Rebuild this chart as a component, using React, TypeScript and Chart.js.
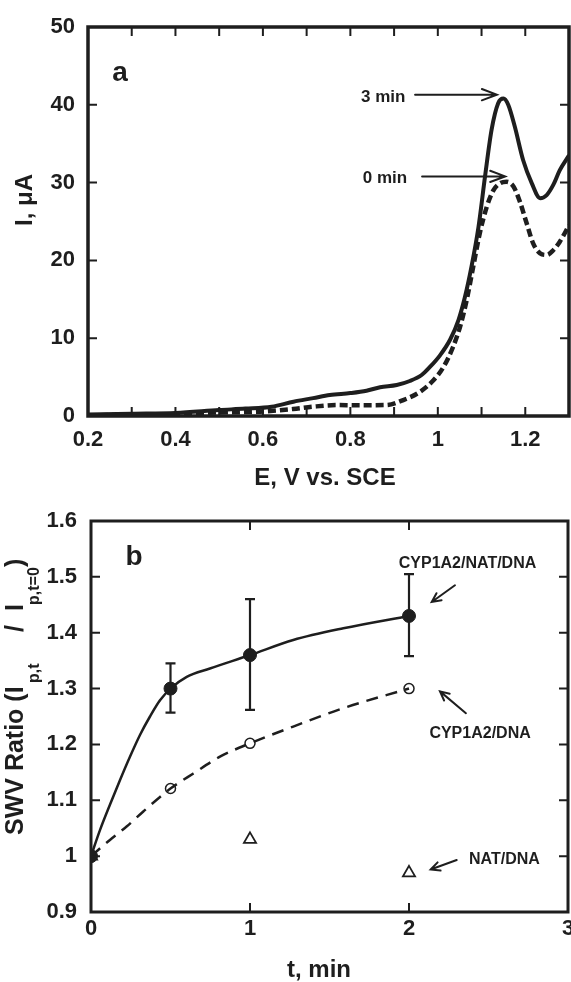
import React, { useEffect, useRef } from "react";
import { Chart, registerables } from "chart.js";

Chart.register(...registerables);

const FAMILY = "'Liberation Sans', Arial, Helvetica, sans-serif";
const INK = "#1e1e1e";

// ---------- Panel a : SWV curves ----------
const E_3MIN = [0.2, 0.3, 0.4, 0.5, 0.56, 0.62, 0.67, 0.715, 0.753, 0.8, 0.837, 0.868, 0.906, 0.936, 0.963, 0.982, 1.005, 1.028, 1.047, 1.062, 1.077, 1.093, 1.108, 1.123, 1.138, 1.15, 1.161, 1.176, 1.195, 1.215, 1.234, 1.249, 1.264, 1.279, 1.3];
const I_3MIN = [0.2, 0.3, 0.4, 0.77, 0.95, 1.2, 1.84, 2.3, 2.7, 2.95, 3.25, 3.7, 3.98, 4.5, 5.27, 6.3, 7.8, 9.8, 12.3, 15.3, 19.2, 24.3, 30.8, 36.8, 40.2, 40.8, 40.0, 37.2, 32.9, 29.9, 28.0, 28.4, 29.7, 31.6, 33.5];

const E_0MIN = [0.2, 0.3, 0.4, 0.5, 0.593, 0.669, 0.715, 0.769, 0.822, 0.883, 0.921, 0.959, 0.99, 1.013, 1.035, 1.051, 1.066, 1.081, 1.096, 1.112, 1.127, 1.142, 1.157, 1.173, 1.188, 1.203, 1.218, 1.234, 1.249, 1.264, 1.279, 1.3];
const I_0MIN = [0.1, 0.15, 0.25, 0.45, 0.56, 0.9, 1.2, 1.4, 1.38, 1.42, 2.05, 3.1, 4.6, 6.3, 8.9, 11.5, 14.9, 19.2, 23.5, 26.9, 29.0, 29.9, 30.1, 29.5, 27.5, 24.8, 22.2, 20.9, 20.7, 21.3, 22.4, 24.5];

const X_LABELS_A = [0.2, 0.4, 0.6, 0.8, 1, 1.2];
const X_MARKS_A = [0.3, 0.4, 0.5, 0.6, 0.7, 0.8, 0.9, 1.0, 1.1, 1.2];
const Y_LABELS_A = [0, 10, 20, 30, 40, 50];
const Y_MARKS_A = [10, 20, 30, 40];

const NOTES_A = [
  { text: "3 min", x: 0.875, y: 41.0, ax0: 0.948, ay0: 41.3, ax1: 1.135, ay1: 41.3 },
  { text: "0 min", x: 0.879, y: 30.5, ax0: 0.964, ay0: 30.8, ax1: 1.154, ay1: 30.8 },
];

// ---------- Panel b : SWV ratio vs time ----------
const T_POINTS = [0, 0.5, 1, 2];
const RATIO_CYP_NAT = [1.0, 1.3, 1.36, 1.43];
const ERR_HIGH = [1.0, 1.345, 1.46, 1.505];
const ERR_LOW = [1.0, 1.257, 1.262, 1.358];
const RATIO_CYP = [1.0, 1.121, 1.202, 1.3];
const T_NAT = [0, 1, 2];
const RATIO_NAT = [1.0, 1.03, 0.97];

const T_FIT_SOLID = [0, 0.057, 0.119, 0.182, 0.245, 0.308, 0.371, 0.434, 0.5, 0.602, 0.748, 1.0, 1.272, 1.587, 2.0];
const R_FIT_SOLID = [1.0, 1.047, 1.092, 1.136, 1.178, 1.217, 1.25, 1.279, 1.3, 1.321, 1.336, 1.36, 1.387, 1.408, 1.43];
const T_FIT_DASH = [0, 0.119, 0.224, 0.329, 0.434, 0.5, 0.644, 0.811, 1.0, 1.272, 1.587, 2.0];
const R_FIT_DASH = [1.0, 1.029, 1.053, 1.08, 1.106, 1.121, 1.148, 1.178, 1.202, 1.232, 1.265, 1.3];

const X_LABELS_B = [0, 1, 2, 3];
const X_MARKS_B = [1, 2];
const Y_LABELS_B = [0.9, 1.0, 1.1, 1.2, 1.3, 1.4, 1.5, 1.6];
const Y_MARKS_B = [1.0, 1.1, 1.2, 1.3, 1.4, 1.5];

const NOTES_B = [
  { text: "CYP1A2/NAT/DNA", x: 2.368, y: 1.524, ax0: 2.289, ay0: 1.485, ax1: 2.143, ay1: 1.455 },
  { text: "CYP1A2/DNA", x: 2.447, y: 1.22, ax0: 2.358, ay0: 1.256, ax1: 2.195, ay1: 1.295 },
  { text: "NAT/DNA", x: 2.6, y: 0.994, ax0: 2.3, ay0: 0.993, ax1: 2.136, ay1: 0.976 },
];

const pts = (xs: number[], ys: number[]) => xs.map((x, i) => ({ x, y: ys[i] }));
const fmt = (v: number) => String(Math.round(v * 10) / 10);
const font = (size: number) => `bold ${size}px ${FAMILY}`;

function arrow(ctx: CanvasRenderingContext2D, x0: number, y0: number, x1: number, y1: number, head: number, ang: number, lw: number) {
  ctx.save();
  ctx.strokeStyle = INK;
  ctx.lineWidth = lw;
  ctx.lineCap = "round";
  ctx.beginPath();
  ctx.moveTo(x0, y0);
  ctx.lineTo(x1, y1);
  const a = Math.atan2(y1 - y0, x1 - x0);
  ctx.moveTo(x1 - head * Math.cos(a - ang), y1 - head * Math.sin(a - ang));
  ctx.lineTo(x1, y1);
  ctx.lineTo(x1 - head * Math.cos(a + ang), y1 - head * Math.sin(a + ang));
  ctx.stroke();
  ctx.restore();
}

function frame(chart: any, xMarks: number[], yMarks: number[], bw: number, len: number) {
  const { ctx, chartArea: ca, scales } = chart;
  ctx.save();
  ctx.strokeStyle = INK;
  ctx.lineWidth = 2;
  ctx.beginPath();
  xMarks.forEach((v) => {
    const p = scales.x.getPixelForValue(v);
    ctx.moveTo(p, ca.bottom);
    ctx.lineTo(p, ca.bottom - len);
    ctx.moveTo(p, ca.top);
    ctx.lineTo(p, ca.top + len);
  });
  yMarks.forEach((v) => {
    const p = scales.y.getPixelForValue(v);
    ctx.moveTo(ca.left, p);
    ctx.lineTo(ca.left + len, p);
    ctx.moveTo(ca.right, p);
    ctx.lineTo(ca.right - len, p);
  });
  ctx.stroke();
  ctx.lineWidth = bw;
  ctx.strokeRect(ca.left, ca.top, ca.right - ca.left, ca.bottom - ca.top);
  ctx.restore();
}

const decorA = {
  id: "decorA",
  afterDraw(chart: any) {
    const { ctx, scales } = chart;
    frame(chart, X_MARKS_A, Y_MARKS_A, 3.5, 9);
    ctx.save();
    ctx.fillStyle = INK;
    ctx.textAlign = "center";
    ctx.textBaseline = "middle";
    ctx.font = font(24);
    ctx.fillText("E, V vs. SCE", 325, 478);
    ctx.font = font(28);
    ctx.fillText("a", scales.x.getPixelForValue(0.273), scales.y.getPixelForValue(44.0));
    ctx.font = font(17);
    NOTES_A.forEach((n) => {
      ctx.fillText(n.text, scales.x.getPixelForValue(n.x), scales.y.getPixelForValue(n.y));
      arrow(ctx, scales.x.getPixelForValue(n.ax0), scales.y.getPixelForValue(n.ay0), scales.x.getPixelForValue(n.ax1), scales.y.getPixelForValue(n.ay1), 16, 0.36, 2);
    });
    ctx.translate(32, 200);
    ctx.rotate(-Math.PI / 2);
    ctx.textBaseline = "alphabetic";
    ctx.font = font(24);
    ctx.fillText("I, \u03bcA", 0, 0);
    ctx.restore();
  },
};

const decorB = {
  id: "decorB",
  afterDatasetsDraw(chart: any) {
    const { ctx, scales } = chart;
    ctx.save();
    ctx.strokeStyle = INK;
    ctx.lineWidth = 2.2;
    ctx.beginPath();
    T_POINTS.forEach((t, i) => {
      if (ERR_HIGH[i] === ERR_LOW[i]) return;
      const x = scales.x.getPixelForValue(t);
      const yh = scales.y.getPixelForValue(ERR_HIGH[i]);
      const yl = scales.y.getPixelForValue(ERR_LOW[i]);
      ctx.moveTo(x, yh);
      ctx.lineTo(x, yl);
      ctx.moveTo(x - 5, yh);
      ctx.lineTo(x + 5, yh);
      ctx.moveTo(x - 5, yl);
      ctx.lineTo(x + 5, yl);
    });
    ctx.stroke();
    ctx.restore();
  },
  afterDraw(chart: any) {
    const { ctx, scales } = chart;
    frame(chart, X_MARKS_B, Y_MARKS_B, 3, 9);
    ctx.save();
    ctx.fillStyle = INK;
    ctx.textAlign = "center";
    ctx.textBaseline = "middle";
    ctx.font = font(24);
    ctx.fillText("t, min", 319, 478);
    ctx.font = font(28);
    ctx.fillText("b", scales.x.getPixelForValue(0.27), scales.y.getPixelForValue(1.535));
    ctx.font = font(16);
    NOTES_B.forEach((n) => {
      ctx.fillText(n.text, scales.x.getPixelForValue(n.x), scales.y.getPixelForValue(n.y));
      arrow(ctx, scales.x.getPixelForValue(n.ax0), scales.y.getPixelForValue(n.ay0), scales.x.getPixelForValue(n.ax1), scales.y.getPixelForValue(n.ay1), 10, 0.45, 2);
    });
    // rotated y title with subscripts
    ctx.translate(23, 343);
    ctx.rotate(-Math.PI / 2);
    ctx.textAlign = "left";
    ctx.textBaseline = "alphabetic";
    ctx.font = font(25);
    ctx.fillText("SWV Ratio (I", 0, 0);
    ctx.fillText("/", 203, 0);
    ctx.fillText("I", 224, 0);
    ctx.fillText(")", 268, 0);
    ctx.font = font(16);
    ctx.fillText("p,t", 152, 16);
    ctx.fillText("p,t=0", 230, 16);
    ctx.restore();
  },
};

function axisX(min: number, max: number, labels: number[], pad: number, h: number) {
  return {
    type: "linear",
    min,
    max,
    grid: { display: false, drawTicks: false },
    border: { display: false },
    ticks: { color: INK, padding: pad, font: { family: FAMILY, size: 22, weight: "bold" }, callback: (v: number) => fmt(v) },
    afterBuildTicks: (s: any) => { s.ticks = labels.map((value) => ({ value })); },
    afterFit: (s: any) => { s.height = h; s.paddingLeft = 0; s.paddingRight = 0; },
  };
}
function axisY(min: number, max: number, labels: number[], pad: number, w: number) {
  return {
    type: "linear",
    min,
    max,
    grid: { display: false, drawTicks: false },
    border: { display: false },
    ticks: { color: INK, padding: pad, font: { family: FAMILY, size: 22, weight: "bold" }, callback: (v: number) => fmt(v) },
    afterBuildTicks: (s: any) => { s.ticks = labels.map((value) => ({ value })); },
    afterFit: (s: any) => { s.width = w; s.paddingTop = 0; s.paddingBottom = 0; },
  };
}

const common = {
  responsive: false,
  animation: false,
  devicePixelRatio: 1,
  events: [],
  plugins: { legend: { display: false }, tooltip: { enabled: false } },
};

export default function App() {
  const refA = useRef<HTMLCanvasElement>(null);
  const refB = useRef<HTMLCanvasElement>(null);

  useEffect(() => {
    const chartA = new Chart(refA.current as HTMLCanvasElement, {
      type: "line",
      data: {
        datasets: [
          { data: pts(E_3MIN, I_3MIN), borderColor: INK, borderWidth: 4, pointRadius: 0, cubicInterpolationMode: "monotone", fill: false },
          { data: pts(E_0MIN, I_0MIN), borderColor: INK, borderWidth: 4.5, borderDash: [8, 4], pointRadius: 0, cubicInterpolationMode: "monotone", fill: false },
        ],
      },
      options: {
        ...common,
        layout: { autoPadding: false, padding: { top: 27, right: 2, left: 0, bottom: 0 } },
        scales: { x: axisX(0.2, 1.3, X_LABELS_A, 11, 76), y: axisY(0, 50, Y_LABELS_A, 13, 88) },
      } as any,
      plugins: [decorA],
    });

    const chartB = new Chart(refB.current as HTMLCanvasElement, {
      type: "line",
      data: {
        datasets: [
          { data: pts(T_POINTS, RATIO_CYP_NAT), showLine: false, pointStyle: "circle", pointRadius: 6.5, pointBackgroundColor: INK, pointBorderColor: INK, pointBorderWidth: 1 },
          { data: pts(T_POINTS, RATIO_CYP), showLine: false, pointStyle: "circle", pointRadius: 5, pointBackgroundColor: "rgba(0,0,0,0)", pointBorderColor: INK, pointBorderWidth: 1.5 },
          { data: pts(T_NAT, RATIO_NAT), showLine: false, pointStyle: "triangle", pointRadius: 7, pointBackgroundColor: "rgba(0,0,0,0)", pointBorderColor: INK, pointBorderWidth: 1.8 },
          { data: pts(T_FIT_SOLID, R_FIT_SOLID), borderColor: INK, borderWidth: 2.5, pointRadius: 0, cubicInterpolationMode: "monotone", fill: false },
          { data: pts(T_FIT_DASH, R_FIT_DASH), borderColor: INK, borderWidth: 2.5, borderDash: [12, 8], pointRadius: 0, cubicInterpolationMode: "monotone", fill: false },
        ],
      },
      options: {
        ...common,
        layout: { autoPadding: false, padding: { top: 29, right: 3, left: 0, bottom: 0 } },
        scales: { x: axisX(0, 3, X_LABELS_B, 4, 70), y: axisY(0.9, 1.6, Y_LABELS_B, 14, 91) },
      } as any,
      plugins: [decorB],
    });

    return () => {
      chartA.destroy();
      chartB.destroy();
    };
  }, []);

  return (
    <div style={{ position: "absolute", left: 0, top: 0, width: 571, height: 982, background: "#fff", overflow: "hidden" }}>
      <canvas ref={refA} width={571} height={492} style={{ display: "block", width: 571, height: 492 }} />
      <canvas ref={refB} width={571} height={490} style={{ display: "block", width: 571, height: 490 }} />
    </div>
  );
}
